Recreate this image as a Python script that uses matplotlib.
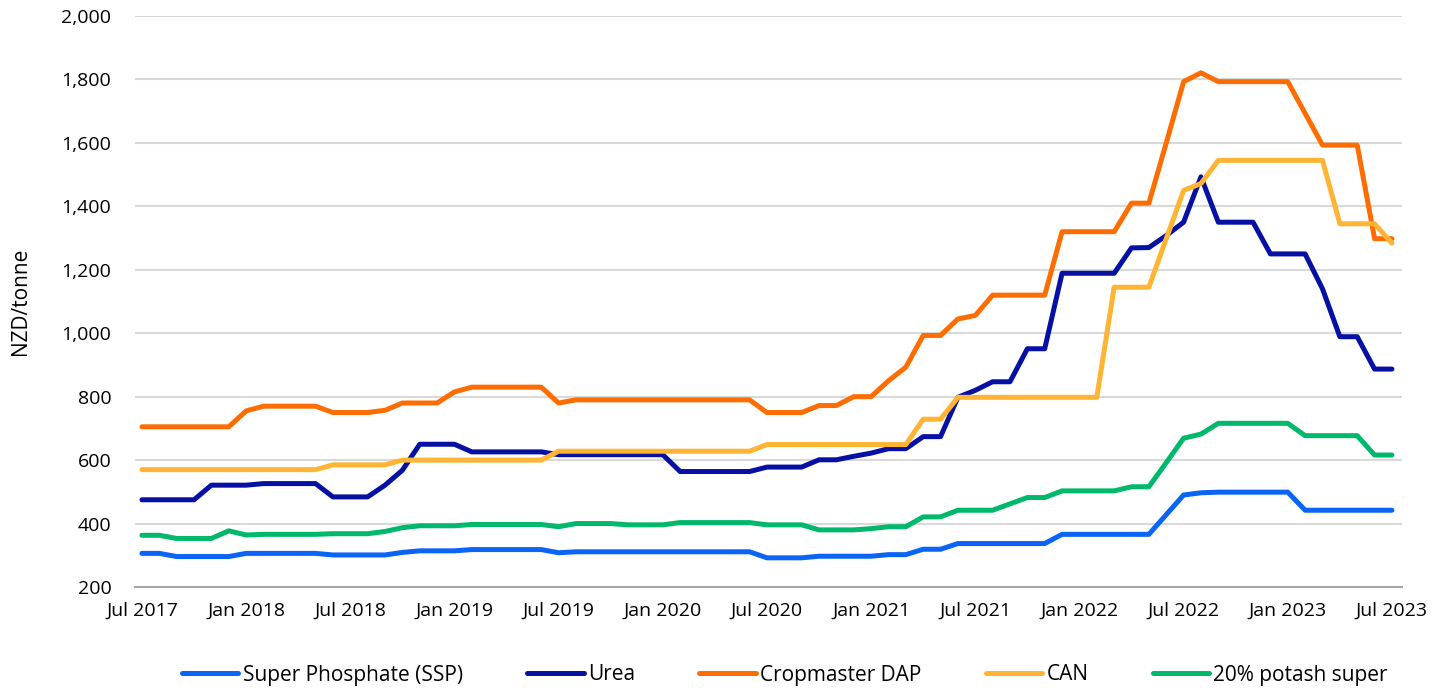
import matplotlib
matplotlib.use("Agg")
import matplotlib.pyplot as plt
import numpy as np

plt.rcParams['font.family'] = ['Open Sans', 'DejaVu Sans']

# monthly prices, Jul 2017 .. Jul 2023 (NZD/tonne)
months = 73
tick_labels = ['Jul 2017', 'Jan 2018', 'Jul 2018', 'Jan 2019', 'Jul 2019', 'Jan 2020',
               'Jul 2020', 'Jan 2021', 'Jul 2021', 'Jan 2022', 'Jul 2022', 'Jan 2023', 'Jul 2023']

ssp = ([306] * 2 + [296] * 4 + [306] * 5 + [301] * 4 + [309] + [314] * 3 + [318] * 5 + [308]
       + [311] * 11 + [292] * 3 + [297] * 4 + [302] * 2 + [319] * 2 + [337] * 6 + [366] * 6
       + [428, 490, 497] + [499] * 5 + [442] * 6)
urea = ([475] * 4 + [521] * 3 + [526] * 4 + [484] * 3 + [521, 568] + [650] * 3 + [626] * 5
        + [617] * 7 + [564] * 5 + [578] * 3 + [601] * 2 + [612, 622] + [636] * 2 + [674] * 2
        + [798, 820] + [847] * 2 + [951] * 2 + [1189] * 4 + [1269, 1270, 1308, 1350, 1493]
        + [1350] * 3 + [1250] * 3 + [1140] + [989] * 2 + [887] * 2)
dap = ([705] * 6 + [755] + [770] * 4 + [750] * 3 + [757] + [780] * 3 + [815] + [830] * 5 + [780]
       + [790] * 11 + [750] * 3 + [772] * 2 + [800] * 2 + [850, 893] + [993] * 2 + [1045, 1056]
       + [1120] * 4 + [1320] * 4 + [1410] * 2 + [1600, 1793, 1821] + [1793] * 5 + [1693]
       + [1593] * 3 + [1298] * 2)
can = ([570] * 11 + [585] * 4 + [600] * 9 + [628] * 12 + [649] * 9 + [729] * 2 + [798] * 9
       + [1145] * 3 + [1298, 1450, 1472] + [1545] * 7 + [1345] * 3 + [1284])
potash = ([363] * 2 + [353] * 3 + [377, 364] + [366] * 4 + [368] * 3 + [375, 387] + [393] * 3
          + [397] * 5 + [390] + [400] * 3 + [396] * 3 + [403] * 5 + [396] * 3 + [380] * 3 + [384]
          + [390] * 2 + [421] * 2 + [442] * 3 + [462] + [482] * 2 + [503] * 4 + [516] * 2
          + [592, 669, 682] + [716] * 5 + [677] * 4 + [616] * 2)

series = [
    ('Super Phosphate (SSP)', ssp, '#0a64f5'),
    ('Urea', urea, '#0610a2'),
    ('Cropmaster DAP', dap, '#ff6d00'),
    ('CAN', can, '#ffb433'),
    ('20% potash super', potash, '#00b86b'),
]

x = np.arange(months)

fig = plt.figure(figsize=(14.46, 6.88), dpi=100)
ax = fig.add_axes([135 / 1446, 1 - 587 / 688, (1402 - 135) / 1446, (587 - 16) / 688])

for name, vals, col in series:
    ax.plot(x, vals, color=col, lw=3.6, label=name, solid_joinstyle='round',
            solid_capstyle='round')

ax.set_xlim(-0.4, 72.58)
ax.set_ylim(200, 2000)
ax.set_yticks(range(200, 2001, 200))
ax.set_yticklabels([f'{v:,}' for v in range(200, 2001, 200)])
ax.set_xticks(range(0, months, 6))
ax.set_xticklabels(tick_labels)
ax.grid(axis='y', color='#d9d9d9', lw=1.5)
ax.set_axisbelow(True)
for s in ['top', 'right', 'left']:
    ax.spines[s].set_visible(False)
ax.spines['bottom'].set_color('#a6a6a6')
ax.spines['bottom'].set_linewidth(1.5)
ax.tick_params(axis='both', length=0, labelsize=14, colors='#000000')
ax.tick_params(axis='y', pad=17)
ax.tick_params(axis='x', pad=11)

ax.set_ylabel('NZD/tonne', fontsize=15)
ax.yaxis.set_label_coords(-104 / 1267, 0.5)

fig.legend(loc='center', bbox_to_anchor=(785 / 1446, 1 - 675 / 688), ncol=5, frameon=False,
           fontsize=15, handlelength=2.7, handletextpad=0.2, columnspacing=3.1)

fig.savefig('out.png', dpi=100)
